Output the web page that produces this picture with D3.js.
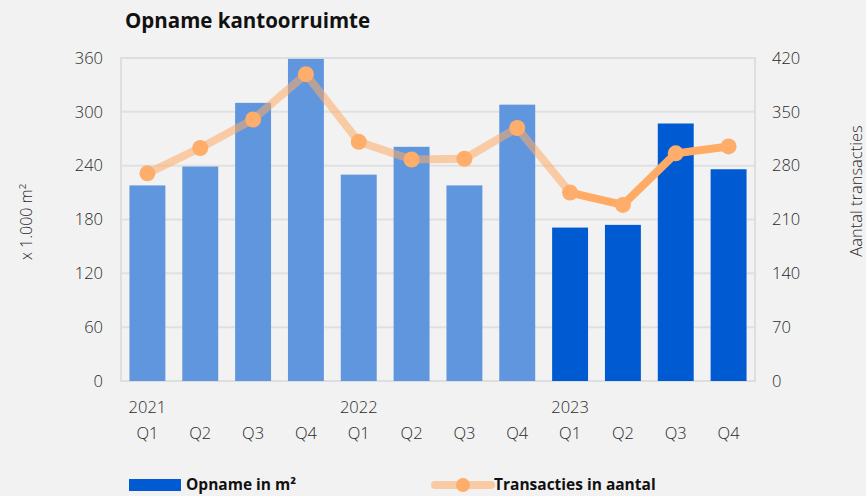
<!DOCTYPE html>
<html><head><meta charset="utf-8">
<script src="https://cdn.jsdelivr.net/npm/d3@7"></script>
<style>
html,body{margin:0;padding:0;background:#f2f2f2;}
text{font-family:"Open Sans",Lato,sans-serif;}
</style></head>
<body><svg id="c" width="866" height="496"></svg>
<script>
const quarters = ["Q1","Q2","Q3","Q4","Q1","Q2","Q3","Q4","Q1","Q2","Q3","Q4"];
const years = ["2021","2021","2021","2021","2022","2022","2022","2022","2023","2023","2023","2023"];
const opname = [218,239,310,359,230,261,218,308,171,174,287,236];
const transacties = [270,303,340,399,311,288,289,329,245,229,296,305];
const leftTicks = [0,60,120,180,240,300,360];
const rightTicks = [0,70,140,210,280,350,420];
const currentYear = "2023";

const svg = d3.select("#c");
const L = 121, R = 755, T = 58, B = 381;
const ids = quarters.map((q,i)=>i);
const x = d3.scaleBand().domain(ids).range([L,R]).paddingInner(0.32).paddingOuter(0.16);
const yL = d3.scaleLinear().domain([0,360]).range([B,T]);
const yR = d3.scaleLinear().domain([0,420]).range([B,T]);

// gridlines
svg.append("g").selectAll("line").data(leftTicks).join("line")
  .attr("x1",L).attr("x2",R).attr("y1",d=>yL(d)).attr("y2",d=>yL(d))
  .attr("stroke","#e0e0e0").attr("stroke-width",2);
svg.append("rect").attr("x",L).attr("y",T).attr("width",R-L).attr("height",B-T)
  .attr("fill","none").attr("stroke","#dedede").attr("stroke-width",2);

// bars
svg.append("g").selectAll("rect").data(ids).join("rect")
  .attr("x",i=>x(i)).attr("width",x.bandwidth())
  .attr("y",i=>yL(opname[i])).attr("height",i=>yL(0)-yL(opname[i]))
  .attr("fill",i=>years[i]===currentYear?"#005ad2":"#5f96de");

// line segments
const cx = i=>x(i)+x.bandwidth()/2;
for(let i=0;i<ids.length-1;i++){
  const dark = years[i]===currentYear && years[i+1]===currentYear;
  svg.append("line")
    .attr("x1",cx(i)).attr("y1",yR(transacties[i]))
    .attr("x2",cx(i+1)).attr("y2",yR(transacties[i+1]))
    .attr("stroke",dark?"#ffab66":"rgba(255,171,102,0.55)")
    .attr("stroke-width",8).attr("stroke-linecap","butt");
}
svg.append("g").selectAll("circle").data(ids).join("circle")
  .attr("cx",cx).attr("cy",i=>yR(transacties[i])).attr("r",8)
  .attr("fill","#ffad6a");

// axes labels
const tickStyle = s=>s.attr("font-size",16.5).attr("fill","#2a2a2a").attr("font-weight",300);
svg.append("g").selectAll("text").data(leftTicks).join("text")
  .attr("x",103).attr("y",d=>yL(d)).attr("dy","0.35em").attr("text-anchor","end")
  .text(d=>d).call(tickStyle);
svg.append("g").selectAll("text").data(rightTicks).join("text")
  .attr("x",772).attr("y",d=>yR(d)).attr("dy","0.35em").attr("text-anchor","start")
  .text(d=>d).call(tickStyle);
svg.append("g").selectAll("text").data(ids).join("text")
  .attr("x",cx).attr("y",439).attr("text-anchor","middle").text(i=>quarters[i]).call(tickStyle);
svg.append("g").selectAll("text").data(ids.filter(i=>i===0||years[i]!==years[i-1])).join("text")
  .attr("x",cx).attr("y",413).attr("text-anchor","middle").text(i=>years[i]).call(tickStyle);

svg.append("text").attr("transform","translate(32,222) rotate(-90)").attr("text-anchor","middle")
  .text("x 1.000 m²").call(tickStyle).attr("font-size",16);
svg.append("text").attr("transform","translate(862,191) rotate(-90)").attr("text-anchor","middle")
  .text("Aantal transacties").call(tickStyle).attr("font-size",16.5);

// title
svg.append("text").attr("x",125).attr("y",28).attr("font-size",20.5).attr("font-weight",700)
  .attr("fill","#111").text("Opname kantoorruimte");

// legend
const ly = 485;
svg.append("rect").attr("x",129).attr("y",ly-6).attr("width",52).attr("height",12).attr("fill","#005ad2");
svg.append("text").attr("x",186).attr("y",ly).attr("dy","0.35em").attr("font-size",15.5).attr("font-weight",700).attr("fill","#111").text("Opname in m²");
svg.append("line").attr("x1",435).attr("x2",491).attr("y1",ly).attr("y2",ly)
  .attr("stroke","rgba(255,171,102,0.55)").attr("stroke-width",8).attr("stroke-linecap","round");
svg.append("circle").attr("cx",463).attr("cy",ly).attr("r",7).attr("fill","#ffad6a");
svg.append("text").attr("x",494).attr("y",ly).attr("dy","0.35em").attr("font-size",15.5).attr("font-weight",700).attr("fill","#111").text("Transacties in aantal");
</script></body></html>
